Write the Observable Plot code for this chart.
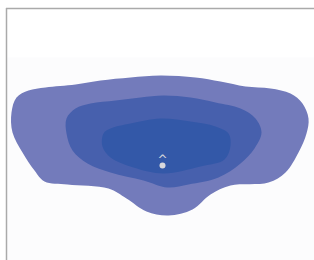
<!DOCTYPE html>
<html><head><meta charset="utf-8">
<script src="https://cdn.jsdelivr.net/npm/d3@7"></script>
<script src="https://cdn.jsdelivr.net/npm/@observablehq/plot@0.6"></script>
<style>body{margin:0;background:#fff}</style>
</head><body><div id="chart"></div>
<script>
const levels = ["base", "low", "mid", "high"];
const levelColors = ["#fcfcfd", "#737bbb", "#4760ad", "#3358a8"];
const baseX = [7, 314, 314, 7];
const baseY = [57, 57, 260, 260];
const lowX = [11,16,28,45,75,100,130,160,195,220,245,270,290,302,308,306,298,285,268,230,210,192,168,146,126,108,67,44,34,22,12];
const lowY = [112,97,90,87,84,80,77,75,77,81,86,88,93,103,118,133,152,172,182,185,194,209,215,211,198,188,184,181,170,152,132];
const midX = [66,75,90,115,140,163,190,215,240,255,261,254,240,218,188,167,143,110,87,72,66];
const midY = [118,108,103,100,97,95,97,102,108,118,132,148,163,177,184,187,180,172,163,150,133];
const highX = [103,110,130,160,190,215,228,230,224,200,163,133,110,102];
const highY = [133,128,123,118,121,126,133,145,159,166,173,167,157,146];
const peakX = [162];
const peakY = [165];
const frameX = [6];
const frameY = [8];

const poly = (name, xs, ys) => xs.map((x, i) => ({level: name, x, y: ys[i]}));
const low = poly("low", lowX, lowY);
const mid = poly("mid", midX, midY);
const high = poly("high", highX, highY);
const base = poly("base", baseX, baseY);

const chart = Plot.plot({
  width: 314, height: 260,
  margin: 0,
  x: {domain: [0, 314], axis: null},
  y: {domain: [260, 0], axis: null},
  color: {domain: levels, range: levelColors},
  marks: [
    Plot.line(base, {x: "x", y: "y", fill: levelColors[0], stroke: "none", curve: "linear-closed"}),
    Plot.line(low, {x: "x", y: "y", fill: levelColors[1], stroke: "none", curve: "catmull-rom-closed"}),
    Plot.line(mid, {x: "x", y: "y", fill: levelColors[2], stroke: "none", curve: "catmull-rom-closed"}),
    Plot.line(high, {x: "x", y: "y", fill: levelColors[3], stroke: "none", curve: "catmull-rom-closed"}),
    Plot.dot(peakX.map((x, i) => ({x, y: peakY[i]})), {x: "x", y: "y", r: 3, fill: "#d8d8dc", stroke: "none"}),
    Plot.text(peakX.map((x, i) => ({x, y: peakY[i]})), {x: "x", y: "y", text: () => "^", dy: -5, fill: "#d8d8dc", fontSize: 12, fontFamily: "DejaVu Sans"}),
    Plot.ruleX(frameX, {y1: frameY[0], y2: 260, stroke: "#aaaaaa", strokeWidth: 1.5}),
    Plot.ruleY(frameY, {x1: frameX[0], x2: 314, stroke: "#aaaaaa", strokeWidth: 1.5})
  ]
});
document.getElementById("chart").append(chart);
</script>
</body></html>
